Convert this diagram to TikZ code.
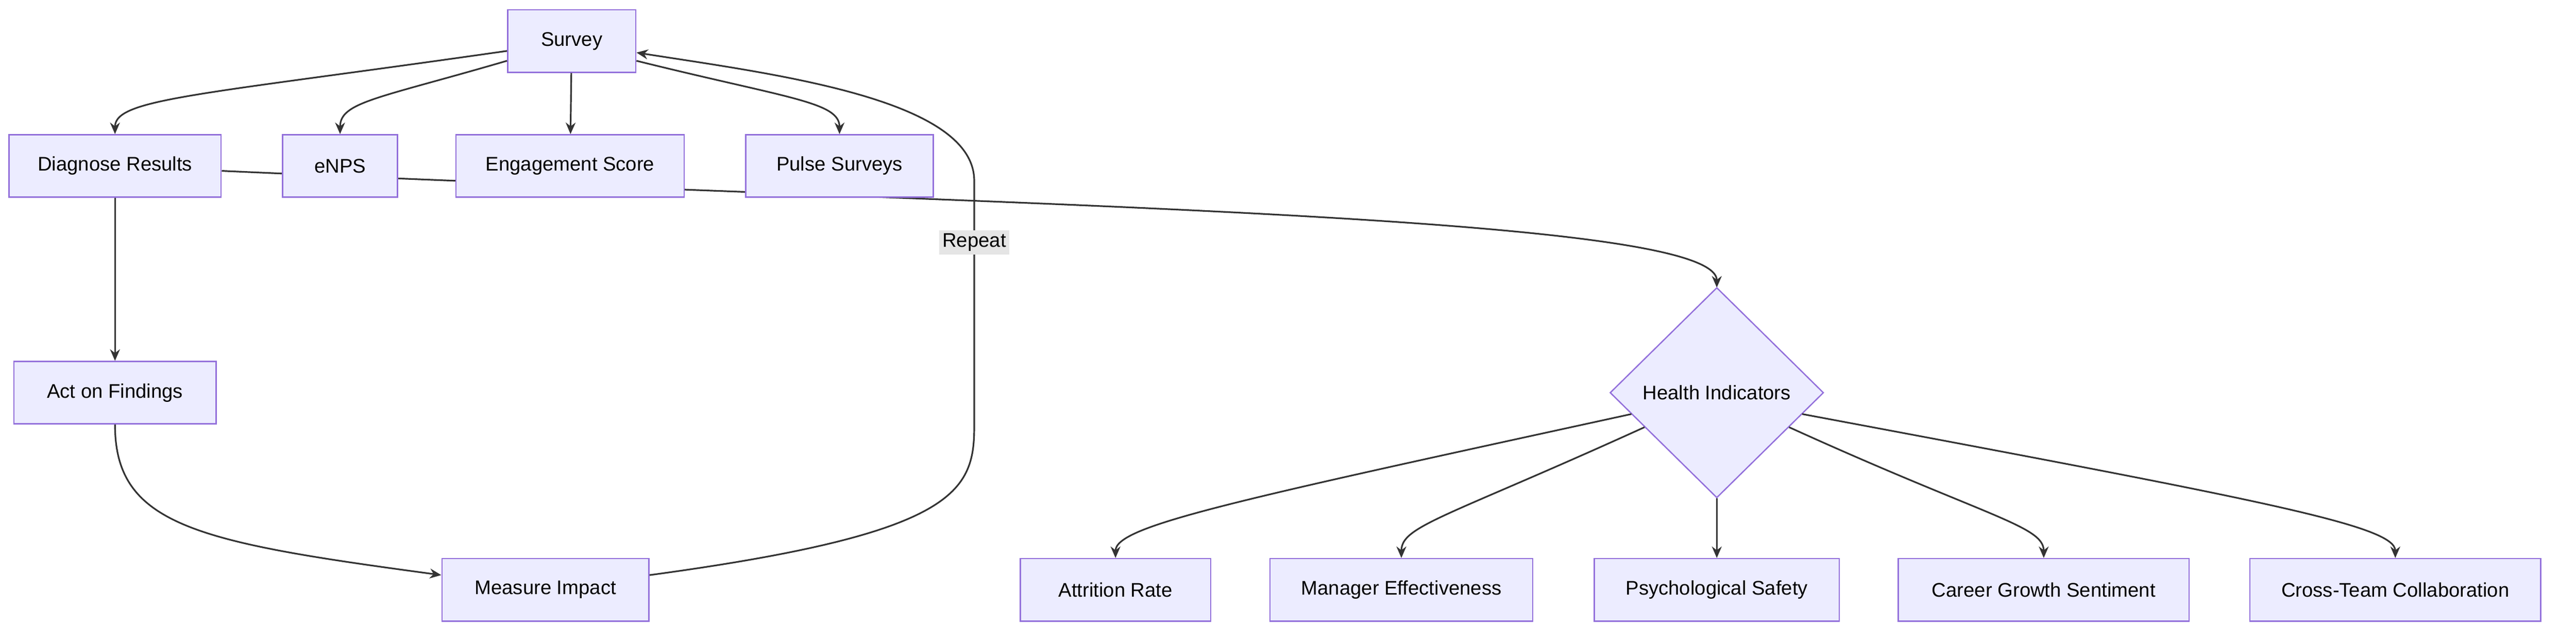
\documentclass[tikz,border=0pt]{standalone}
\usepackage{fontspec}
\setmainfont{Liberation Sans}
\usetikzlibrary{shapes.geometric,arrows.meta,positioning}
\definecolor{boxfill}{HTML}{ECECFF}
\definecolor{boxline}{HTML}{9370DB}
\definecolor{edgecol}{HTML}{333333}
\tikzset{
  box/.style={draw=boxline,fill=boxfill,line width=0.8pt,minimum height=38pt,font=\fontsize{12}{14}\selectfont},
  decide/.style={diamond,draw=boxline,fill=boxfill,line width=0.8pt,minimum width=130pt,minimum height=128pt,inner sep=0pt,font=\fontsize{12}{14}\selectfont},
  flow/.style={draw=edgecol,line width=1pt,-{Stealth[length=7pt,width=6pt]}}
}
\begin{document}
\begin{tikzpicture}[x=1pt,y=-1pt]
  \useasboundingbox (0,0) rectangle (1568,390);

  % Edge passing behind top row
  \coordinate (hitop) at (1045,175);
  \draw[flow] (135,104) .. controls (600,125) and (1045,130) .. (hitop);

  % Nodes
  \node[box,minimum width=78pt]  (survey)  at (348,25)  {Survey};
  \node[box,minimum width=129pt] (diag)    at (70,101)  {Diagnose Results};
  \node[box,minimum width=70pt]  (enps)    at (207,101) {eNPS};
  \node[box,minimum width=139pt] (engage)  at (347,101) {Engagement Score};
  \node[box,minimum width=114pt] (pulse)   at (511,101) {Pulse Surveys};
  \node[box,minimum width=123pt] (act)     at (70,239)  {Act on Findings};
  \node[box,minimum width=126pt] (measure) at (332,359) {Measure Impact};
  \node[decide] (health) at (1045,239) {Health Indicators};
  \node[box,minimum width=116pt] (attr)    at (679,359)  {Attrition Rate};
  \node[box,minimum width=160pt] (mgr)     at (853,359)  {Manager Effectiveness};
  \node[box,minimum width=149pt] (psych)   at (1045,359) {Psychological Safety};
  \node[box,minimum width=177pt] (career)  at (1244,359) {Career Growth Sentiment};
  \node[box,minimum width=177pt] (cross)   at (1458,359) {Cross-Team Collaboration};

  % Survey fan-out
  \draw[flow] (survey.west |- 0,31) .. controls (120,58) and (70,60) .. (diag.north);
  \draw[flow] (survey.west |- 0,37) .. controls (230,60) and (207,62) .. (enps.north);
  \draw[flow] (survey) -- (engage);
  \draw[flow] (survey.east |- 0,37) .. controls (480,60) and (511,62) .. (pulse.north);

  % Cycle
  \draw[flow] (diag) -- (act);
  \draw[flow] (act.south) .. controls (70,320) and (120,330) .. (measure.west |- 0,350);
  \draw[flow] (measure.east |- 0,350) .. controls (580,325) and (593,300) .. (593,260)
    -- (593,110) node[pos=0.75,fill=gray!20,inner sep=2pt,font=\fontsize{12}{14}\selectfont] {Repeat}
    .. controls (593,60) and (470,45) .. (survey.east |- 0,32);

  % Health indicators
  \coordinate (hl1) at (993,252);
  \coordinate (hl2) at (1001,260);
  \coordinate (hr2) at (1089,260);
  \coordinate (hr1) at (1097,252);
  \draw[flow] (hl1) .. controls (750,305) and (679,320) .. (attr.north);
  \draw[flow] (hl2) .. controls (880,315) and (853,320) .. (mgr.north);
  \draw[flow] (health) -- (psych);
  \draw[flow] (hr2) .. controls (1210,315) and (1244,320) .. (career.north);
  \draw[flow] (hr1) .. controls (1380,305) and (1458,320) .. (cross.north);
\end{tikzpicture}
\end{document}
